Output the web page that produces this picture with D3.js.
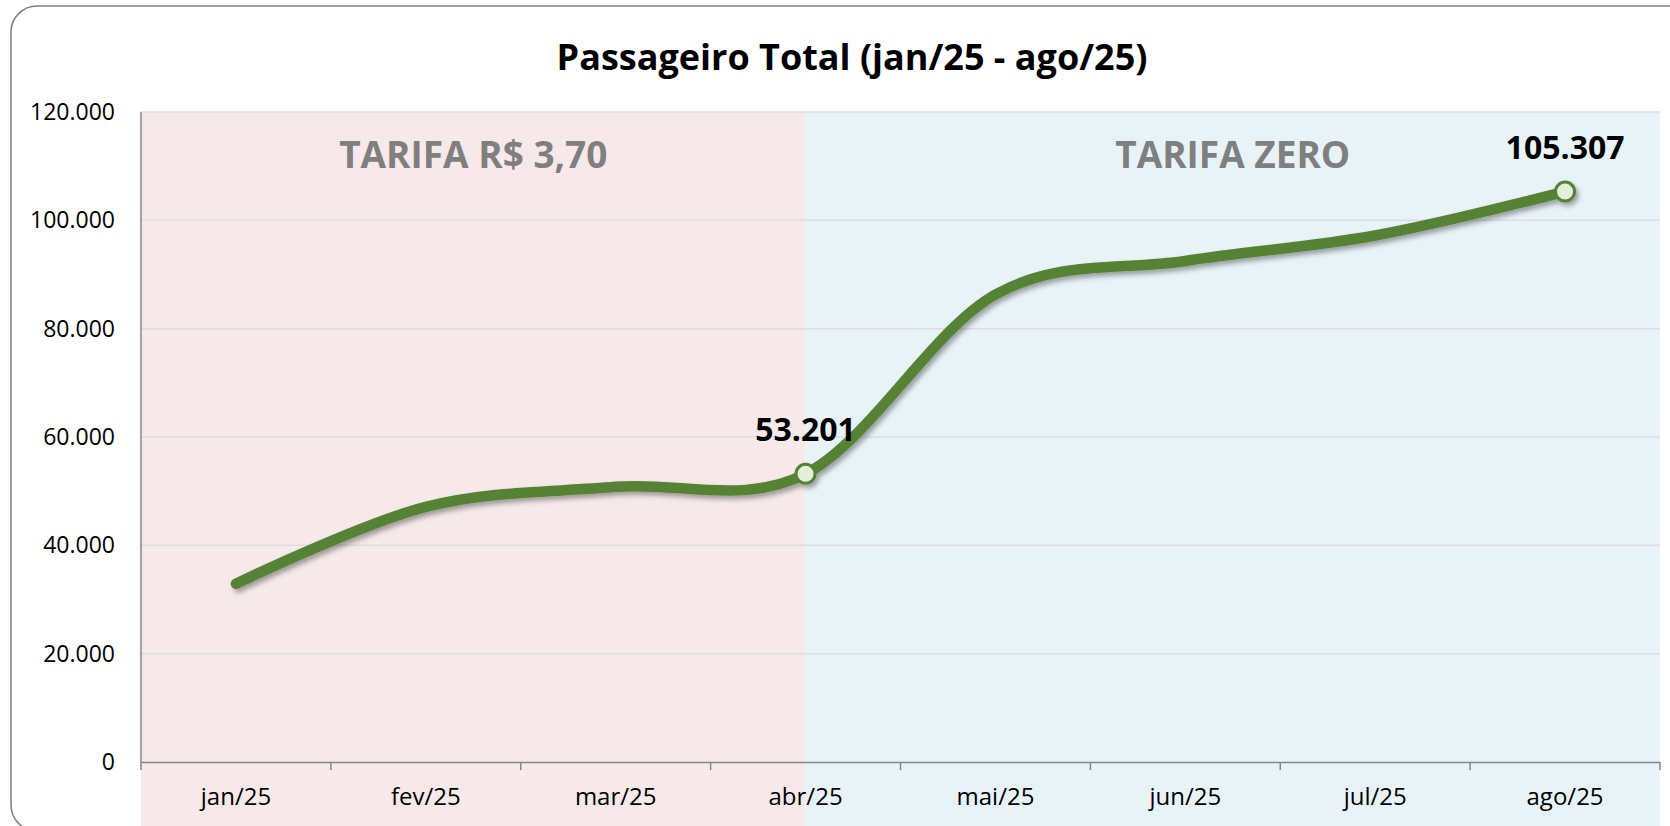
<!DOCTYPE html>
<html>
<head>
<meta charset="utf-8">
<script src="https://cdn.jsdelivr.net/npm/d3@7"></script>
<style>
  html, body { margin: 0; padding: 0; background: #fff; }
  svg { display: block; font-family: "Open Sans", "Noto Sans", sans-serif; }
</style>
</head>
<body>
<div id="chart"></div>
<script>
const months = ["jan/25", "fev/25", "mar/25", "abr/25", "mai/25", "jun/25", "jul/25", "ago/25"];
const passengers = [32900, 47100, 50800, 53201, 86300, 92500, 97200, 105307];
const yTicks = [0, 20000, 40000, 60000, 80000, 100000, 120000];
const labelled = ["abr/25", "ago/25"];
const periods = [
    { label: "TARIFA R$ 3,70", from: "jan/25", to: "abr/25", fill: "#f7e9e9" },
    { label: "TARIFA ZERO", from: "abr/25", to: "ago/25", fill: "#e8f3f8" }
];

const width = 1670;
const height = 826;
const margin = { top: 112, right: 10, bottom: 64, left: 141 };

const svg = d3.select("#chart")
    .append("svg")
    .attr("width", width)
    .attr("height", height);

const fmt = d3.formatLocale({ decimal: ",", thousands: ".", grouping: [3], currency: ["R$", ""] }).format(",d");

const x = d3.scaleBand()
    .domain(months)
    .range([margin.left, width - margin.right]);

const y = d3.scaleLinear()
    .domain([0, 120000])
    .range([height - margin.bottom, margin.top]);

// shadow under the line
const defs = svg.append("defs");
defs.append("filter")
    .attr("id", "shadow")
    .attr("x", "-5%").attr("y", "-20%")
    .attr("width", "110%").attr("height", "140%")
    .append("feDropShadow")
    .attr("dx", 2.5)
    .attr("dy", 3.5)
    .attr("stdDeviation", 2.5)
    .attr("flood-color", "#000")
    .attr("flood-opacity", 0.35);

// chart border
svg.append("rect")
    .attr("x", 11)
    .attr("y", 6)
    .attr("width", 1720)
    .attr("height", 825)
    .attr("rx", 26)
    .attr("fill", "#fff")
    .attr("stroke", "#7f7f7f")
    .attr("stroke-width", 1.5);

// period backgrounds, from plot top down to the bottom of the picture
const mid = m => x(m) + x.bandwidth() / 2;
const bandLeft = (p, i) => i === 0 ? x.range()[0] : mid(p.from);
const bandRight = (p, i) => i === periods.length - 1 ? x.range()[1] : mid(p.to);

svg.selectAll(".period")
    .data(periods)
    .join("rect")
    .attr("x", (d, i) => bandLeft(d, i))
    .attr("y", y(120000))
    .attr("width", (d, i) => bandRight(d, i) - bandLeft(d, i))
    .attr("height", height - y(120000))
    .attr("fill", d => d.fill);

svg.selectAll(".period-label")
    .data(periods)
    .join("text")
    .attr("x", (d, i) => (bandLeft(d, i) + bandRight(d, i)) / 2)
    .attr("y", 168)
    .attr("text-anchor", "middle")
    .attr("font-size", "37px")
    .attr("font-weight", "bold")
    .attr("fill", "#7f7f7f")
    .text(d => d.label);

// gridlines
svg.selectAll(".grid")
    .data(yTicks.filter(d => d > 0))
    .join("line")
    .attr("x1", x.range()[0])
    .attr("x2", x.range()[1])
    .attr("y1", d => y(d))
    .attr("y2", d => y(d))
    .attr("stroke", "#dedede")
    .attr("stroke-width", 1.5);

// y axis
const yAxis = svg.append("g")
    .attr("transform", `translate(${margin.left},0)`)
    .call(d3.axisLeft(y).tickValues(yTicks).tickFormat(fmt).tickSize(0).tickPadding(26));
yAxis.select(".domain")
    .attr("d", `M0,${y(120000)}V${y(0) + 8}`)
    .attr("stroke", "#868686")
    .attr("stroke-width", 1.5);
yAxis.selectAll("text")
    .attr("font-family", "Open Sans")
    .attr("font-size", "23px")
    .attr("fill", "#000");

// x axis: ticks between months
const xAxis = svg.append("g")
    .attr("transform", `translate(0,${y(0)})`)
    .call(d3.axisBottom(x).tickSize(0).tickPadding(26));
xAxis.select(".domain")
    .attr("stroke", "#868686")
    .attr("stroke-width", 1.5);
xAxis.selectAll("text")
    .attr("font-family", "Open Sans")
    .attr("font-size", "24px")
    .attr("fill", "#000");
xAxis.selectAll(".sep")
    .data(months.slice(1).map(m => x(m)).concat([x.range()[1]]))
    .join("line")
    .attr("x1", d => d)
    .attr("x2", d => d)
    .attr("y1", 0)
    .attr("y2", 8)
    .attr("stroke", "#868686")
    .attr("stroke-width", 1.5);

// title
svg.append("text")
    .attr("x", 852)
    .attr("y", 70)
    .attr("text-anchor", "middle")
    .attr("font-size", "36px")
    .attr("font-weight", "bold")
    .attr("fill", "#000")
    .text("Passageiro Total (jan/25 - ago/25)");

// the series
const series = months.map((m, i) => ({ month: m, value: passengers[i] }));

const line = d3.line()
    .x(d => mid(d.month))
    .y(d => y(d.value))
    .curve(d3.curveCardinal);

const g = svg.append("g").attr("filter", "url(#shadow)");

g.append("path")
    .datum(series)
    .attr("d", line)
    .attr("fill", "none")
    .attr("stroke", "#548235")
    .attr("stroke-width", 10.5)
    .attr("stroke-linecap", "round")
    .attr("stroke-linejoin", "round");

const marked = series.filter(d => labelled.includes(d.month));

g.selectAll(".dot")
    .data(marked)
    .join("circle")
    .attr("cx", d => mid(d.month))
    .attr("cy", d => y(d.value))
    .attr("r", 9.5)
    .attr("fill", "#e2efda")
    .attr("stroke", "#548235")
    .attr("stroke-width", 3);

svg.selectAll(".value-label")
    .data(marked)
    .join("text")
    .attr("x", d => mid(d.month))
    .attr("y", d => y(d.value) - 33)
    .attr("text-anchor", "middle")
    .attr("font-size", "32px")
    .attr("font-weight", "bold")
    .attr("fill", "#000")
    .text(d => fmt(d.value));
</script>
</body>
</html>
